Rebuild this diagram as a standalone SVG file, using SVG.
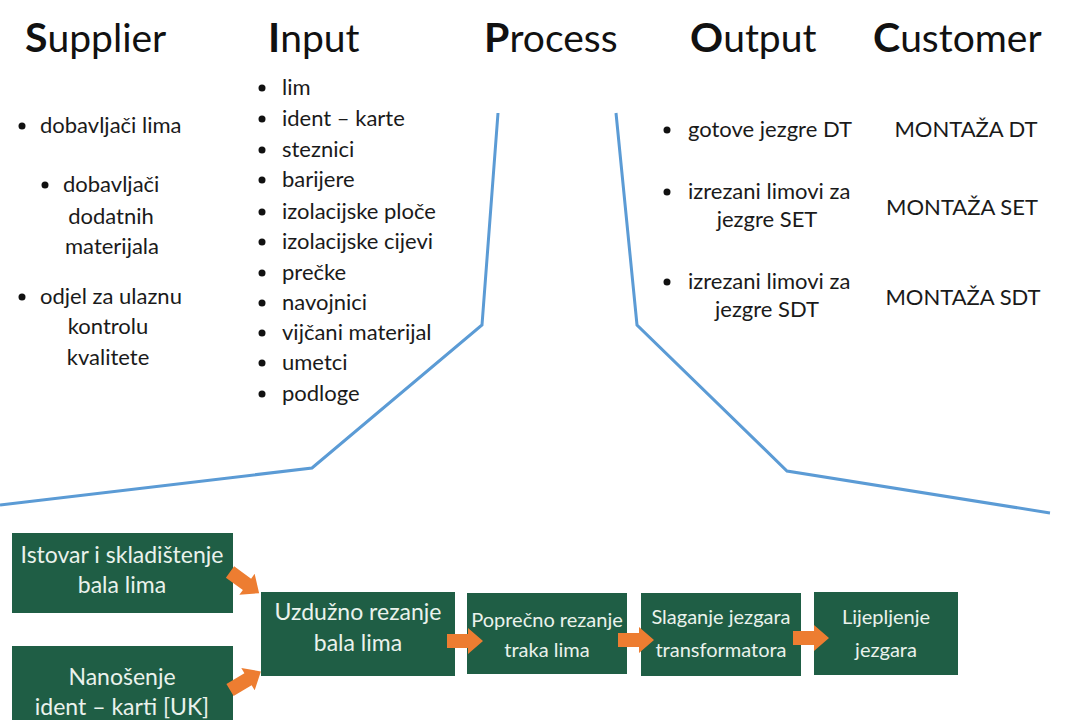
<svg xmlns="http://www.w3.org/2000/svg" width="1070" height="720" viewBox="0 0 1070 720">
<style>
.hdr{font-family:Lato,"Open Sans","Liberation Sans",sans-serif;font-size:39px;fill:#111}
.hdr .b{font-weight:bold;font-size:41px}
.t{font-family:Lato,"Open Sans","Liberation Sans",sans-serif;font-size:22px;fill:#1a1a1a}
.c{text-anchor:middle}
.bx{fill:#1F5E45}
.bt{font-family:Lato,"Open Sans","Liberation Sans",sans-serif;font-size:23px;fill:#EAF2EC;text-anchor:middle}
.bs{font-size:20px}
.ln{fill:none;stroke:#5B9BD5;stroke-width:3;stroke-linejoin:miter}
.ar{fill:#ED7D31}
.dot{fill:#111}
</style>
<defs>
<polygon id="arr" points="0,-7 21,-7 21,-13 36,0 21,13 21,7 0,7"/>
</defs>
<rect width="1070" height="720" fill="#fff"/>

<g id="headers">
<text class="hdr" x="25" y="52"><tspan class="b">S</tspan>upplier</text>
<text class="hdr" x="268" y="52"><tspan class="b">I</tspan>nput</text>
<text class="hdr" x="484" y="52"><tspan class="b">P</tspan>rocess</text>
<text class="hdr" x="690" y="52"><tspan class="b">O</tspan>utput</text>
<text class="hdr" x="873" y="52"><tspan class="b">C</tspan>ustomer</text>
</g>

<g id="supplier">
<circle class="dot" cx="22" cy="126" r="3.5"/>
<text class="t" x="40" y="133">dobavljači lima</text>
<circle class="dot" cx="45" cy="185" r="3.5"/>
<text class="t" x="63" y="192">dobavljači</text>
<text class="t c" x="111" y="224">dodatnih</text>
<text class="t c" x="112" y="254">materijala</text>
<circle class="dot" cx="22" cy="297" r="3.5"/>
<text class="t" x="40" y="304">odjel za ulaznu</text>
<text class="t c" x="108" y="334">kontrolu</text>
<text class="t c" x="108" y="365">kvalitete</text>
</g>

<g id="input">
<g class="dot">
<circle cx="262" cy="88" r="3.5"/><circle cx="262" cy="119" r="3.5"/><circle cx="262" cy="150" r="3.5"/>
<circle cx="262" cy="180" r="3.5"/><circle cx="262" cy="212" r="3.5"/><circle cx="262" cy="242" r="3.5"/>
<circle cx="262" cy="273" r="3.5"/><circle cx="262" cy="303" r="3.5"/><circle cx="262" cy="333" r="3.5"/>
<circle cx="262" cy="363" r="3.5"/><circle cx="262" cy="394" r="3.5"/>
</g>
<text class="t" x="282" y="95">lim</text>
<text class="t" x="282" y="126">ident – karte</text>
<text class="t" x="282" y="157">steznici</text>
<text class="t" x="282" y="187">barijere</text>
<text class="t" x="282" y="219">izolacijske ploče</text>
<text class="t" x="282" y="249">izolacijske cijevi</text>
<text class="t" x="282" y="280">prečke</text>
<text class="t" x="282" y="310">navojnici</text>
<text class="t" x="282" y="340">vijčani materijal</text>
<text class="t" x="282" y="370">umetci</text>
<text class="t" x="282" y="401">podloge</text>
</g>

<g id="output">
<circle class="dot" cx="667" cy="130" r="3.5"/>
<text class="t" x="688" y="137">gotove jezgre DT</text>
<circle class="dot" cx="667" cy="192" r="3.5"/>
<text class="t" x="688" y="199">izrezani limovi za</text>
<text class="t c" x="767" y="227">jezgre SET</text>
<circle class="dot" cx="667" cy="282" r="3.5"/>
<text class="t" x="688" y="289">izrezani limovi za</text>
<text class="t c" x="767" y="317">jezgre SDT</text>
</g>

<g id="customer">
<text class="t c" x="966" y="137">MONTAŽA DT</text>
<text class="t c" x="962" y="215">MONTAŽA SET</text>
<text class="t c" x="963" y="305">MONTAŽA SDT</text>
</g>

<g id="funnel">
<polyline class="ln" points="498,113 482,325 312,468 0,505"/>
<polyline class="ln" points="616,113 637,325 787,471 1050,513"/>
</g>

<g id="n1"><rect class="bx" x="12" y="533" width="221" height="80"/>
<text class="bt" x="122" y="563">Istovar i skladištenje</text><text class="bt" x="122" y="593">bala lima</text></g>
<g id="n2"><rect class="bx" x="12" y="646" width="221" height="84"/>
<text class="bt" x="122" y="685">Nanošenje</text><text class="bt" x="122" y="715">ident – karti [UK]</text></g>
<g id="n3"><rect class="bx" x="261" y="592" width="194" height="84"/>
<text class="bt" x="358" y="620">Uzdužno rezanje</text><text class="bt" x="358" y="651">bala lima</text></g>
<g id="n4"><rect class="bx" x="467" y="593" width="160" height="81"/>
<text class="bt bs" x="547" y="627">Poprečno rezanje</text><text class="bt bs" x="547" y="657">traka lima</text></g>
<g id="n5"><rect class="bx" x="641" y="593" width="160" height="83"/>
<text class="bt bs" x="721" y="624">Slaganje jezgara</text><text class="bt bs" x="721" y="657">transformatora</text></g>
<g id="n6"><rect class="bx" x="814" y="592" width="144" height="83"/>
<text class="bt bs" x="886" y="624">Lijepljenje</text><text class="bt bs" x="886" y="657">jezgara</text></g>

<g id="connectors" class="ar">
<use href="#arr" transform="translate(230,572) rotate(36)"/>
<use href="#arr" transform="translate(230,690) rotate(-31)"/>
<use href="#arr" transform="translate(447,641)"/>
<use href="#arr" transform="translate(618,640)"/>
<use href="#arr" transform="translate(793,638)"/>
</g>
</svg>
